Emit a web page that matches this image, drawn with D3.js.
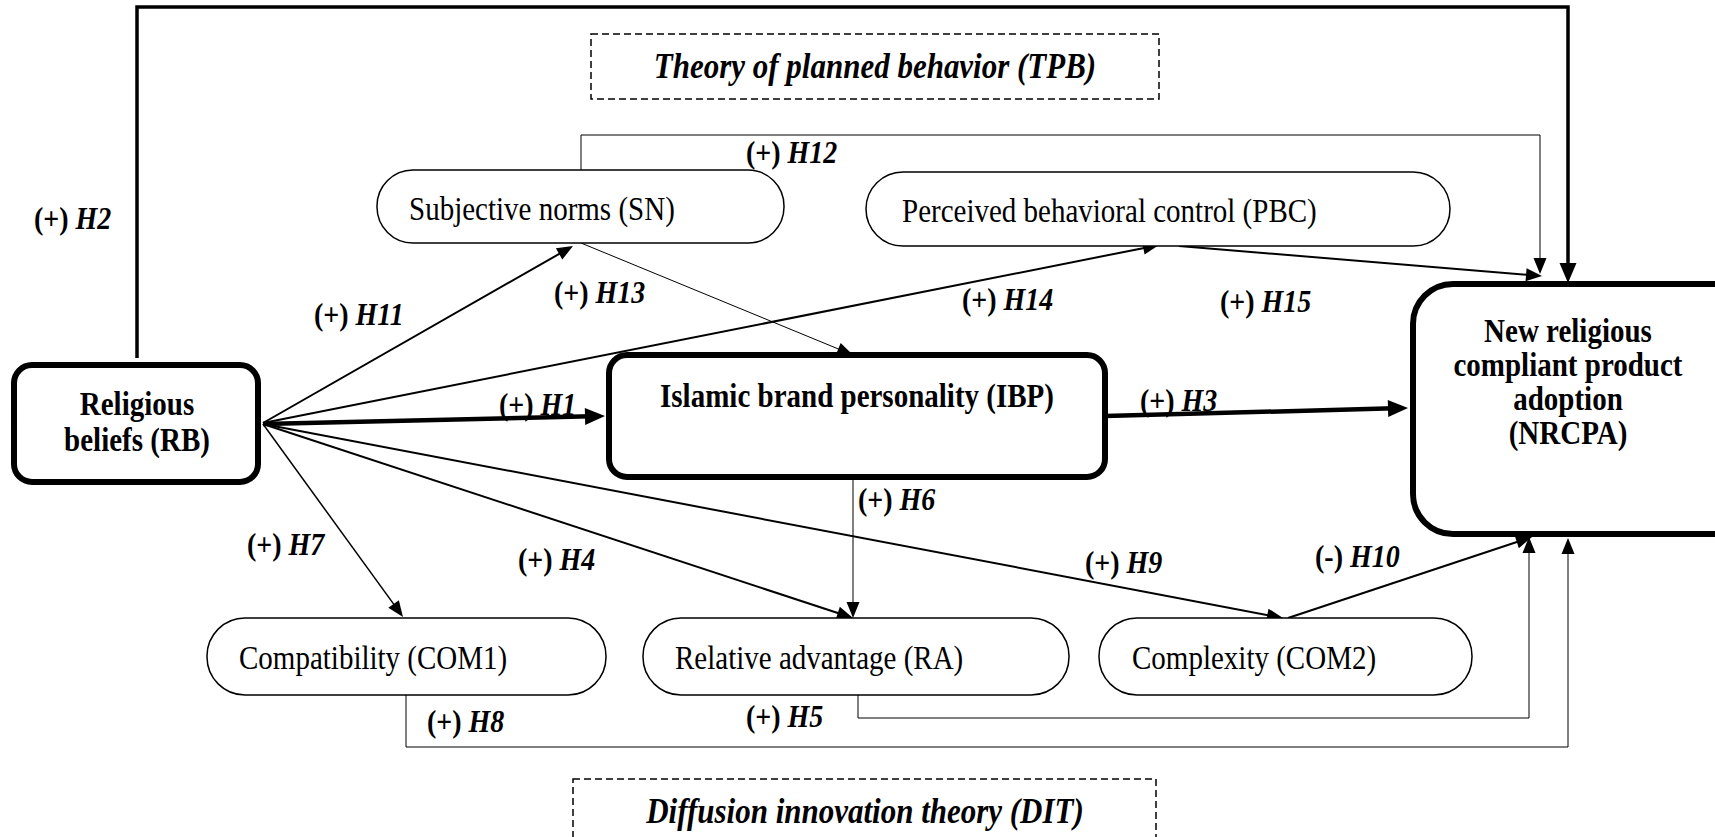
<!DOCTYPE html>
<html>
<head>
<meta charset="utf-8">
<script src="https://cdn.jsdelivr.net/npm/d3@7"></script>
<style>
  html, body { margin: 0; padding: 0; background: #fff; overflow: hidden; }
  text { font-family: "Liberation Serif", "Times New Roman", serif; fill: #000; }
</style>
</head>
<body>
<div id="svgContainer"></div>
<script>
// constructs and their labels
var nodeIds = ["RB", "IBP", "NRCPA", "SN", "PBC", "COM1", "RA", "COM2"];
var nodeText = [
    ["Religious", "beliefs (RB)"],
    ["Islamic brand personality (IBP)"],
    ["New religious", "compliant product", "adoption", "(NRCPA)"],
    ["Subjective norms (SN)"],
    ["Perceived behavioral control (PBC)"],
    ["Compatibility (COM1)"],
    ["Relative advantage (RA)"],
    ["Complexity (COM2)"]
];
// hypotheses
var hypotheses = ["H1", "H2", "H3", "H4", "H5", "H6", "H7", "H8", "H9", "H10", "H11", "H12", "H13", "H14", "H15"];
var signs      = ["+",  "+",  "+",  "+",  "+",  "+",  "+",  "+",  "+",  "-",   "+",   "+",   "+",   "+",   "+"];
var theories = ["Theory of planned behavior (TPB)", "Diffusion innovation theory (DIT)"];

var width = 1715, height = 837;
var stretch = 1.15; // the glyphs in the figure are a bit taller than wide

// layout of the boxes (pixels)
var boxes = {
    RB:    {x: 14,   y: 365, w: 244, h: 117, rx: 18, sw: 6,   bold: true,  tx: 137,  ty: 404, lh: 36},
    IBP:   {x: 609,  y: 355, w: 496, h: 122, rx: 18, sw: 6,   bold: true,  tx: 857,  ty: 396, lh: 35},
    NRCPA: {x: 1413, y: 284, w: 340, h: 250, rx: 40, sw: 6,   bold: true,  tx: 1568, ty: 331, lh: 34},
    SN:    {x: 377,  y: 170, w: 407, h: 73,  rx: 36, sw: 1.5, bold: false, tx: 409,  ty: 209},
    PBC:   {x: 866,  y: 172, w: 584, h: 74,  rx: 37, sw: 1.5, bold: false, tx: 902,  ty: 211},
    COM1:  {x: 207,  y: 618, w: 399, h: 77,  rx: 38, sw: 1.5, bold: false, tx: 239,  ty: 658},
    RA:    {x: 643,  y: 618, w: 426, h: 77,  rx: 38, sw: 1.5, bold: false, tx: 675,  ty: 658},
    COM2:  {x: 1099, y: 618, w: 373, h: 77,  rx: 38, sw: 1.5, bold: false, tx: 1132, ty: 658}
};

// path of each hypothesis arrow + label position
var paths = {
    H1:  {pts: [[263, 424], [605, 416]], sw: 4.5, head: "big",  lx: 499,  ly: 404},
    H2:  {pts: [[137, 358], [137, 7], [1568, 7], [1568, 283]], sw: 3.5, head: "big", lx: 34, ly: 218},
    H3:  {pts: [[1105, 416], [1408, 408]], sw: 4.5, head: "big", lx: 1140, ly: 400},
    H4:  {pts: [[263, 424], [853, 618]], sw: 2, head: "small", lx: 518, ly: 559},
    H5:  {pts: [[858, 695], [858, 718], [1529, 718], [1529, 537]], sw: 1, head: "small", lx: 746, ly: 716},
    H6:  {pts: [[853, 477], [853, 618]], sw: 1, head: "small", lx: 858, ly: 499},
    H7:  {pts: [[263, 424], [403, 617]], sw: 1.5, head: "small", lx: 247, ly: 544},
    H8:  {pts: [[406, 695], [406, 747], [1568, 747], [1568, 538]], sw: 1, head: "small", lx: 427, ly: 721},
    H9:  {pts: [[263, 424], [1283, 618]], sw: 2, head: "small", lx: 1085, ly: 562},
    H10: {pts: [[1288, 618], [1532, 537]], sw: 2, head: "small", lx: 1315, ly: 556},
    H11: {pts: [[263, 423], [573, 246]], sw: 2, head: "small", lx: 314, ly: 314},
    H12: {pts: [[581, 170], [581, 135], [1540, 135], [1540, 274]], sw: 1, head: "small", lx: 746, ly: 152},
    H13: {pts: [[581, 243], [853, 355]], sw: 1, head: "small", lx: 554, ly: 292},
    H14: {pts: [[263, 423], [1159, 245]], sw: 2, head: "small", lx: 962, ly: 299},
    H15: {pts: [[1179, 246], [1542, 276]], sw: 2, head: "small", lx: 1220, ly: 301}
};

var theoryBoxes = [
    {x: 591, y: 34,  w: 568, h: 65, tx: 875, ty: 66},
    {x: 573, y: 779, w: 583, h: 90, tx: 865, ty: 811}
];

var heads = {small: {len: 16, half: 6.5}, big: {len: 20, half: 8.5}};

// put a text at (x, y) with the vertical stretch of the figure
function addText(svg, x, y) {
    return svg.append("text")
        .attr("transform", "translate(" + x + "," + y + ") scale(1," + stretch + ")")
        .attr("dominant-baseline", "central");
}

function drawModel() {
    var svg = d3.select("#svgContainer")
        .append("svg")
        .attr("width", width)
        .attr("height", height);

    svg.append("rect").attr("width", width).attr("height", height).attr("fill", "#fff");

    // dashed theory boxes
    theories.forEach(function(t, i) {
        var b = theoryBoxes[i];
        svg.append("rect")
            .attr("x", b.x).attr("y", b.y).attr("width", b.w).attr("height", b.h)
            .attr("fill", "none").attr("stroke", "#000").attr("stroke-width", 1.5)
            .attr("stroke-dasharray", "7,4");
        addText(svg, b.tx, b.ty)
            .attr("text-anchor", "middle")
            .style("font-size", "31px").style("font-weight", "bold").style("font-style", "italic")
            .text(t);
    });

    var line = d3.line();

    // arrows
    hypotheses.forEach(function(h, i) {
        var p = paths[h];
        var pts = p.pts.map(function(d) { return d.slice(); });
        var n = pts.length;
        var a = pts[n - 2], b = pts[n - 1];
        var dx = b[0] - a[0], dy = b[1] - a[1];
        var L = Math.sqrt(dx * dx + dy * dy);
        var ux = dx / L, uy = dy / L;
        var hd = heads[p.head];
        // shorten the line so it ends inside the head
        var cut = hd.len * 0.7;
        pts[n - 1] = [b[0] - ux * cut, b[1] - uy * cut];
        svg.append("path")
            .attr("d", line(pts))
            .attr("fill", "none").attr("stroke", "#000")
            .attr("stroke-width", p.sw).attr("stroke-linejoin", "miter");
        var bx = b[0] - ux * hd.len, by = b[1] - uy * hd.len;
        var tri = [[b[0], b[1]], [bx - uy * hd.half, by + ux * hd.half], [bx + uy * hd.half, by - ux * hd.half]];
        svg.append("path")
            .attr("d", line(tri) + "Z")
            .attr("fill", "#000");

        // label "(+) H1"
        var t = addText(svg, p.lx, p.ly)
            .style("font-size", "28px").style("font-weight", "bold");
        t.append("tspan").text("(" + signs[i] + ") ");
        t.append("tspan").style("font-style", "italic").text(h);
    });

    // construct boxes
    nodeIds.forEach(function(id, i) {
        var b = boxes[id];
        svg.append("rect")
            .attr("x", b.x).attr("y", b.y).attr("width", b.w).attr("height", b.h)
            .attr("rx", b.rx).attr("ry", b.rx)
            .attr("fill", "#fff").attr("stroke", "#000").attr("stroke-width", b.sw);
        var lines = nodeText[i];
        lines.forEach(function(s, j) {
            addText(svg, b.tx, b.ty + j * (b.lh || 0))
                .attr("text-anchor", b.bold ? "middle" : "start")
                .style("font-size", "29px")
                .style("font-weight", b.bold ? "bold" : "normal")
                .text(s);
        });
    });

    return svg;
}

drawModel();
</script>
</body>
</html>
